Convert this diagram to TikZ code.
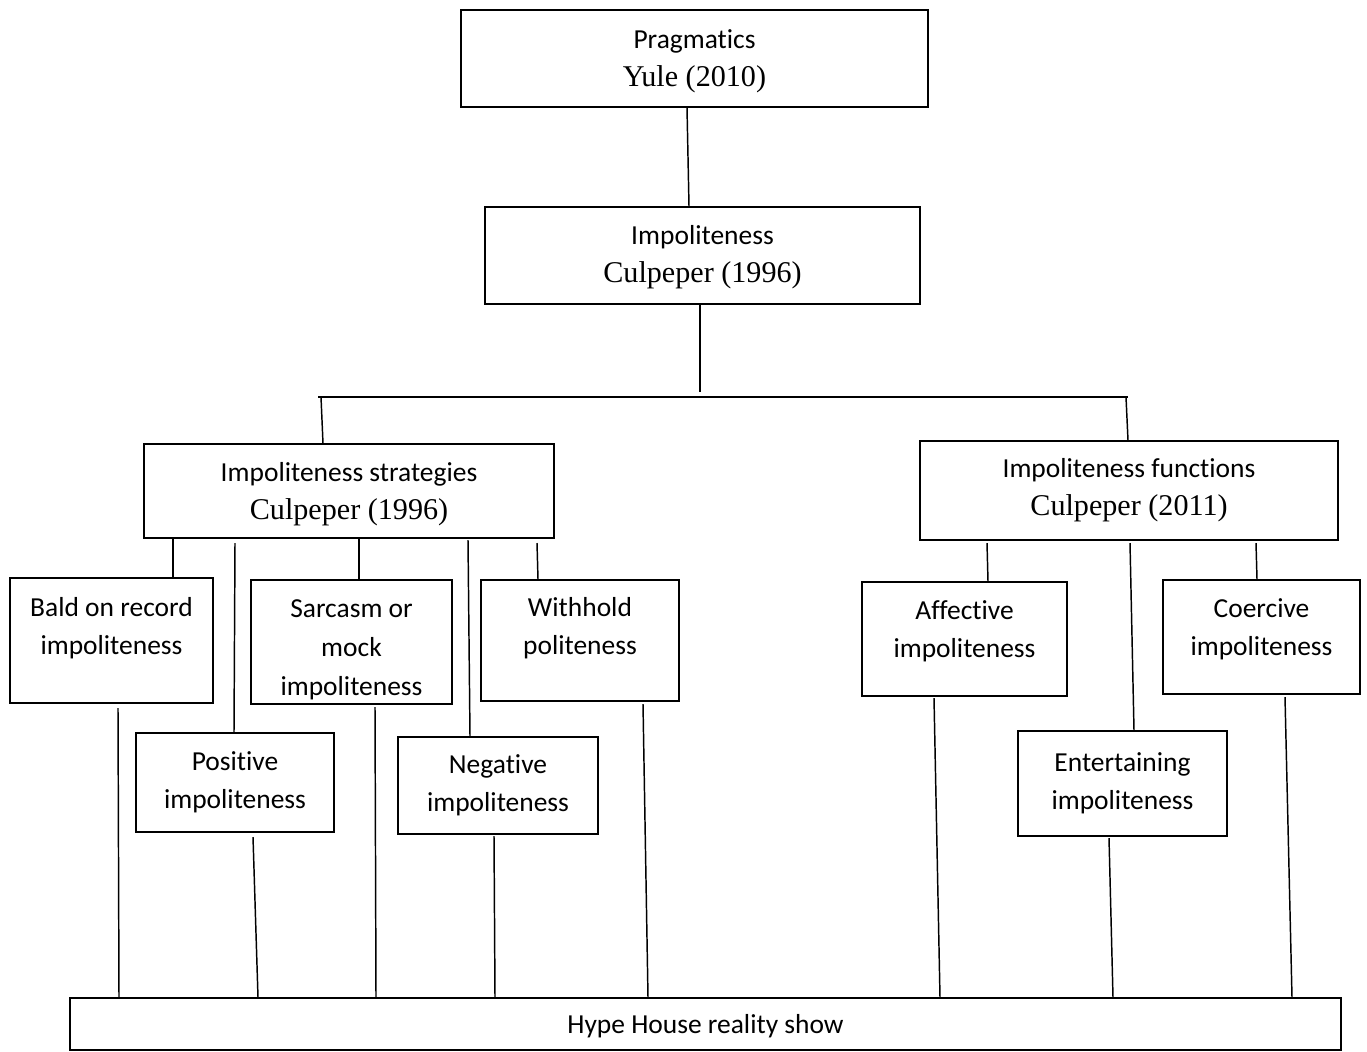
\documentclass[tikz,border=0pt]{standalone}
\usepackage{fontspec}
\setmainfont{Carlito}[Ligatures=NoCommon]
\newfontfamily\tnr{Liberation Serif}
\newcommand\yr[1]{{\tnr\fontsize{22.6}{28.5}\selectfont #1}}

\begin{document}
\begin{tikzpicture}[
    x=0.75pt, y=-0.75pt,
    line width=1.1pt,
    box/.style={draw, align=center, inner sep=0pt,
      font=\fontsize{20.6}{28.5}\selectfont},
    headbox/.style={box, text depth=0pt},
    topbox/.style={box, text depth=22pt}
  ]
  \useasboundingbox (0,0) rectangle (1367,1051);

  % верхние блоки
  \node[headbox, minimum width=350.25pt, minimum height=72.75pt] (prag) at (694.5,58.5)
    {Pragmatics\\\yr{Yule (2010)}};
  \node[headbox, text depth=2pt, minimum width=326.25pt, minimum height=72.75pt] (impol) at (702.5,255.5)
    {Impoliteness\\\yr{Culpeper (1996)}};
  \node[headbox, minimum width=307.5pt, minimum height=70.5pt] (strat) at (349,491)
    {Impoliteness strategies\\\yr{Culpeper (1996)}};
  \node[box, minimum width=313.5pt, minimum height=74.25pt] (func) at (1129,490.5)
    {Impoliteness functions\\\yr{Culpeper (2011)}};

  % стратегии
  \node[topbox, minimum width=152.25pt, minimum height=93.75pt] (bald) at (111.5,640.5)
    {Bald on record\\impoliteness};
  \node[box, minimum width=148.5pt, minimum height=74.25pt] (posit) at (235,782.5)
    {Positive\\impoliteness};
  \node[box, text depth=0pt, font=\fontsize{20.6}{29.25}\selectfont,
    minimum width=150.75pt, minimum height=93pt] (sarc) at (351.5,642)
    {\rule{0pt}{22pt}Sarcasm or\\mock\\impoliteness};
  \node[box, minimum width=150pt, minimum height=72.75pt] (negat) at (498,785.5)
    {Negative\\impoliteness};
  \node[topbox, minimum width=148.5pt, minimum height=90.75pt] (withh) at (580,640.5)
    {Withhold\\politeness};

  % функции
  \node[topbox, text depth=15pt, minimum width=153.75pt, minimum height=85.5pt] (affect) at (964.5,639)
    {Affective\\impoliteness};
  \node[box, minimum width=156.75pt, minimum height=78.75pt] (entert) at (1122.5,783.5)
    {Entertaining\\impoliteness};
  \node[topbox, text depth=15pt, minimum width=147.75pt, minimum height=85.5pt] (coerc) at (1261.5,637)
    {Coercive\\impoliteness};

  % нижний блок
  \node[headbox, minimum width=953.25pt, minimum height=39pt] (hype) at (705.5,1024)
    {Hype House reality show};

  % линии сверху
  \coordinate (barL) at (318,397);
  \coordinate (barR) at (1128,397);
  \draw (687,0 |- prag.south) -- (689,0 |- impol.north);
  \draw (700,0 |- impol.south) -- (700,392);
  \draw (barL) -- (barR);
  \draw (321,0 |- barL) -- (323,0 |- strat.north);
  \draw (1126,0 |- barR) -- (1128,0 |- func.north);

  % от стратегий
  \draw (173,0 |- strat.south) -- (173,0 |- bald.north);
  \draw (235,543) -- (234,0 |- posit.north);
  \draw (359,0 |- strat.south) -- (359,0 |- sarc.north);
  \draw (468,540) -- (470,0 |- negat.north);
  \draw (537,543) -- (538,0 |- withh.north);

  % от функций
  \draw (987,543) -- (988,0 |- affect.north);
  \draw (1130,543) -- (1134,0 |- entert.north);
  \draw (1256,543) -- (1257,0 |- coerc.north);

  % к нижнему блоку
  \draw (118,708) -- (119,0 |- hype.north);
  \draw (253,837) -- (258,0 |- hype.north);
  \draw (375,707) -- (376,0 |- hype.north);
  \draw (494,836) -- (495,0 |- hype.north);
  \draw (643,704) -- (648,0 |- hype.north);
  \draw (934,698) -- (940,0 |- hype.north);
  \draw (1109,838) -- (1113,0 |- hype.north);
  \draw (1285,697) -- (1292,0 |- hype.north);
\end{tikzpicture}
\end{document}
